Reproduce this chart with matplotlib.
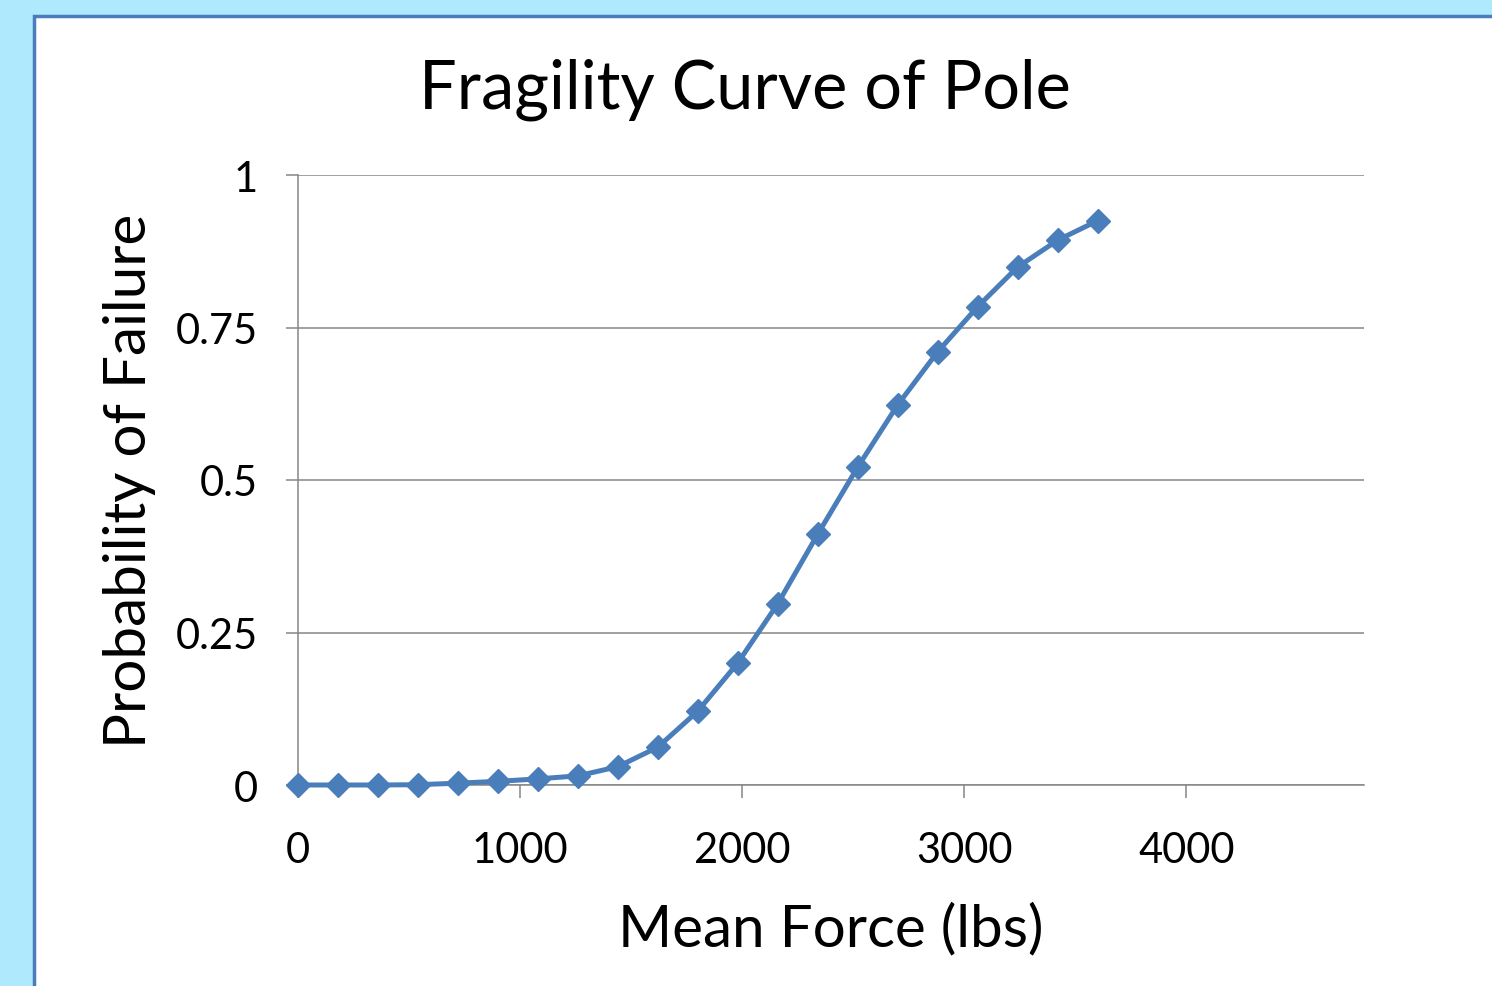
import matplotlib
matplotlib.use('Agg')
import matplotlib.pyplot as plt
from matplotlib.patches import Rectangle

plt.rcParams['font.family'] = ['Lato', 'DejaVu Sans']

# mean force (lbs) vs probability of failure
force = [0, 180, 360, 540, 720, 900, 1080, 1260, 1440, 1620, 1800,
         1980, 2160, 2340, 2520, 2700, 2880, 3060, 3240, 3420, 3600]
prob = [0.0, 0.0, 0.0, 0.0005, 0.003, 0.006, 0.01, 0.015, 0.03, 0.062, 0.121,
        0.2, 0.297, 0.411, 0.521, 0.623, 0.71, 0.784, 0.849, 0.893, 0.925]
xticks = [0, 1000, 2000, 3000, 4000]
yticks = [0, 0.25, 0.5, 0.75, 1]
ytick_labels = ['0', '0.25', '0.5', '0.75', '1']

blue = '#4a7ebb'
grid_gray = '#868686'

fig = plt.figure(figsize=(14.92, 9.87), dpi=100)
fig.patch.set_facecolor('#aee9fd')
# white chart panel with blue border
fig.patches.append(Rectangle((34 / 1492, -0.05), 1.1, 1 - 17 / 987 + 0.05,
                             transform=fig.transFigure, facecolor='white',
                             edgecolor=blue, linewidth=2.5, zorder=-5))

ax = fig.add_axes([298 / 1492, 1 - 786 / 987, (1364 - 298) / 1492, (786 - 176) / 987])
ax.set_facecolor('none')
ax.plot(force, prob, color=blue, linewidth=3.6, marker='D', markersize=12,
        solid_joinstyle='round', solid_capstyle='round', zorder=3, clip_on=False)

ax.set_xlim(0, 4800)
ax.set_ylim(0, 1)
ax.set_xticks(xticks)
ax.set_xticklabels([str(t) for t in xticks])
ax.set_yticks(yticks)
ax.set_yticklabels(ytick_labels)
ax.grid(axis='y', color=grid_gray, linewidth=1.1)
ax.set_axisbelow(True)

for side in ['top', 'right']:
    ax.spines[side].set_visible(False)
for side in ['left', 'bottom']:
    ax.spines[side].set_color(grid_gray)
    ax.spines[side].set_linewidth(1.1)
ax.tick_params(axis='both', colors=grid_gray, labelcolor='black', labelsize=30,
               length=9, width=1.1, pad=20)
ax.tick_params(axis='x', pad=24)

ax.set_xlabel('Mean Force (lbs)', fontsize=42, labelpad=24)
ax.set_ylabel('Probability of Failure', fontsize=42, labelpad=14)
fig.text(745 / 1492, 1 - 90 / 987, 'Fragility Curve of Pole', fontsize=48,
         ha='center', va='center')

fig.savefig('out.png', dpi=100, facecolor=fig.get_facecolor())
